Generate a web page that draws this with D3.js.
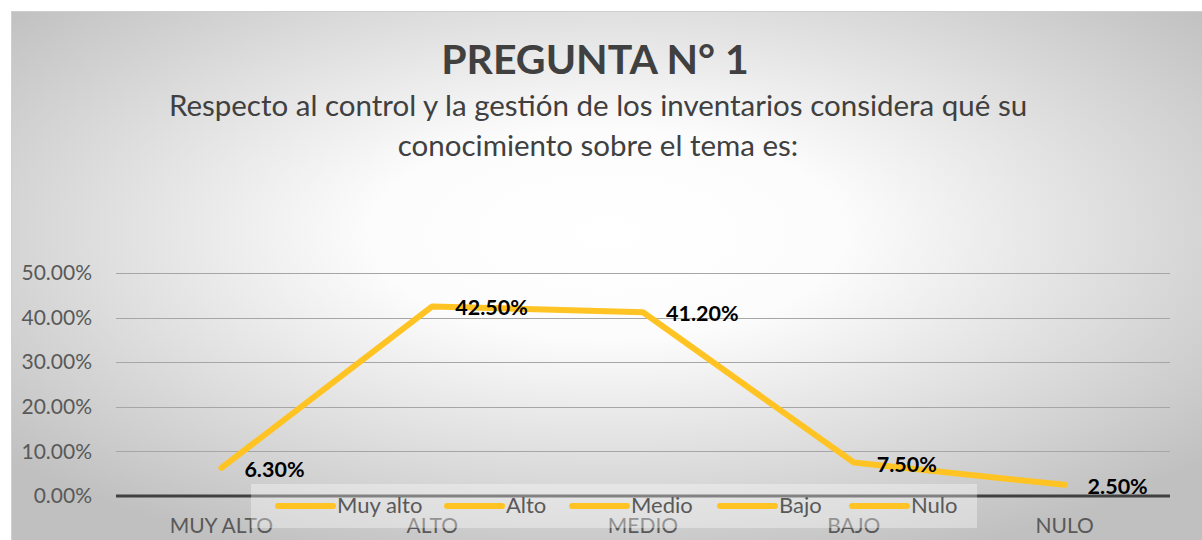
<!DOCTYPE html>
<html>
<head>
<meta charset="utf-8">
<script src="https://cdn.jsdelivr.net/npm/d3@7"></script>
<style>
  body { margin: 0; background: #fff; }
  text { font-family: Lato, "Open Sans", sans-serif; }
</style>
</head>
<body>
<div id="chart"></div>
<script>
// Data
var categories = ['MUY ALTO', 'ALTO', 'MEDIO', 'BAJO', 'NULO']
var legendNames = ['Muy alto', 'Alto', 'Medio', 'Bajo', 'Nulo']
var values = [0.063, 0.425, 0.412, 0.075, 0.025]
var yTicks = [0, 0.1, 0.2, 0.3, 0.4, 0.5]
var titleText = 'PREGUNTA N° 1'
var subtitleLines = ['Respecto al control y la gestión de los inventarios considera qué su', 'conocimiento sobre el tema es:']

var chart = { width: 1202, height: 540 }
var lineColor = '#ffc423'

chart.svg = d3.select('#chart')
  .append('svg')
  .attr('width', chart.width)
  .attr('height', chart.height)

// background gradient
var defs = chart.svg.append('defs')
var grad = defs.append('radialGradient')
  .attr('id', 'bg')
  .attr('cx', 0.5).attr('cy', 0.42).attr('r', 0.66)
grad.append('stop').attr('offset', 0).attr('stop-color', '#ffffff')
grad.append('stop').attr('offset', 0.3).attr('stop-color', '#fcfcfc')
grad.append('stop').attr('offset', 1).attr('stop-color', '#c0c0c0')

chart.svg.append('rect')
  .attr('x', 11.5).attr('y', 11.5)
  .attr('width', chart.width - 11).attr('height', chart.height - 11)
  .attr('fill', 'url(#bg)')
  .attr('stroke', '#cfcfcf')

// Title
chart.svg.append('text')
  .attr('x', 595).attr('y', 74)
  .attr('text-anchor', 'middle')
  .style('font-size', '41px')
  .style('font-weight', 'bold')
  .style('fill', '#404040')
  .text(titleText)

chart.svg.selectAll('text.subtitle')
  .data(subtitleLines)
  .enter()
  .append('text')
  .attr('class', 'subtitle')
  .attr('x', 598)
  .attr('y', function (d, i) { return 116 + i * 40 })
  .attr('text-anchor', 'middle')
  .style('font-size', '29.5px')
  .style('fill', '#404040')
  .text(function (d) { return d })

// Scales
var plot = { left: 116, right: 1170, top: 273, bottom: 496 }

var x = d3.scaleBand()
  .domain(categories)
  .range([plot.left, plot.right])

var y = d3.scaleLinear()
  .domain([0, 0.5])
  .range([plot.bottom, plot.top])

var pct = d3.format('.2%')

// Gridlines
chart.svg.selectAll('line.grid')
  .data(yTicks.filter(function (d) { return d > 0 }))
  .enter()
  .append('line')
  .attr('class', 'grid')
  .attr('x1', plot.left).attr('x2', plot.right)
  .attr('y1', function (d) { return Math.round(y(d)) + 0.5 })
  .attr('y2', function (d) { return Math.round(y(d)) + 0.5 })
  .attr('stroke', '#a6a6a6')
  .attr('stroke-width', 1.2)

// Y axis labels
var yAxis = d3.axisLeft(y)
  .tickValues(yTicks)
  .tickFormat(pct)
  .tickSize(0)
  .tickPadding(0)

var yAxisG = chart.svg.append('g')
  .attr('transform', 'translate(92,0)')
  .call(yAxis)
yAxisG.select('.domain').remove()
yAxisG.selectAll('text')
  .style('font-size', '21px')
  .style('font-family', 'Lato, sans-serif')
  .style('fill', '#595959')

// Zero line
chart.svg.append('line')
  .attr('x1', plot.left).attr('x2', plot.right)
  .attr('y1', y(0)).attr('y2', y(0))
  .attr('stroke', '#404040')
  .attr('stroke-width', 3)

// X axis labels
var xAxis = d3.axisBottom(x)
  .tickSize(0)
  .tickPadding(0)

var xAxisG = chart.svg.append('g')
  .attr('transform', 'translate(0,518)')
  .call(xAxis)
xAxisG.select('.domain').remove()
xAxisG.selectAll('text')
  .style('font-size', '21px')
  .style('font-family', 'Lato, sans-serif')
  .style('fill', '#595959')

// Line
var line = d3.line()
  .x(function (d, i) { return x(categories[i]) + x.bandwidth() / 2 })
  .y(function (d) { return y(d) })

chart.svg.append('path')
  .attr('d', line(values))
  .attr('fill', 'none')
  .attr('stroke', lineColor)
  .attr('stroke-width', 6)
  .attr('stroke-linecap', 'round')
  .attr('stroke-linejoin', 'round')

// Data labels
chart.svg.selectAll('text.label')
  .data(values)
  .enter()
  .append('text')
  .attr('class', 'label')
  .attr('x', function (d, i) { return x(categories[i]) + x.bandwidth() / 2 + 23 })
  .attr('y', function (d) { return y(d) + 9 })
  .style('font-size', '21.5px')
  .style('font-weight', 'bold')
  .style('fill', '#000')
  .text(function (d) { return pct(d) })

// Legend
var legend = chart.svg.append('g')
chart.svg.append('rect')
  .attr('x', 251).attr('y', 484)
  .attr('width', 726).attr('height', 44)
  .attr('fill', 'rgba(255,255,255,0.35)')
legend.raise()

var legendX = [278, 447, 572, 720, 852]
var legendItems = legend.selectAll('g.item')
  .data(legendNames)
  .enter()
  .append('g')
  .attr('class', 'item')
  .attr('transform', function (d, i) { return 'translate(' + legendX[i] + ',506)' })

legendItems.append('line')
  .attr('x1', 0).attr('x2', 55)
  .attr('stroke', lineColor)
  .attr('stroke-width', 6)
  .attr('stroke-linecap', 'round')

legendItems.append('text')
  .attr('x', 59)
  .attr('y', 7)
  .style('font-size', '22px')
  .style('fill', '#595959')
  .text(function (d) { return d })
</script>
</body>
</html>
